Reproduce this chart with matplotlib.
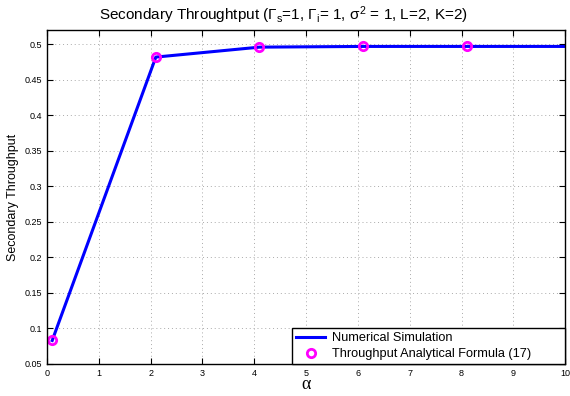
import matplotlib
matplotlib.use('Agg')
import matplotlib.pyplot as plt

# alpha values and throughput from simulation / analytical formula
alpha = [0.1, 2.1, 4.1, 6.1, 8.1, 10.1]
sim_throughput = [0.083, 0.482, 0.496, 0.497, 0.497, 0.497]
ana_alpha = [0.1, 2.1, 4.1, 6.1, 8.1]
ana_throughput = [0.083, 0.482, 0.496, 0.497, 0.497]

xticks = list(range(0, 11))
yticks = [0.05, 0.1, 0.15, 0.2, 0.25, 0.3, 0.35, 0.4, 0.45, 0.5]

plt.rcParams['font.family'] = ['Liberation Sans', 'DejaVu Sans']
plt.rcParams['mathtext.fontset'] = 'custom'
plt.rcParams['mathtext.rm'] = 'Liberation Sans'
plt.rcParams['mathtext.it'] = 'Liberation Sans'

fig = plt.figure(figsize=(5.7, 3.96), dpi=100)
ax = fig.add_axes([0.0825, 0.081, 0.909, 0.843])

ax.plot(alpha, sim_throughput, color='#0000ff', linewidth=2.2,
        label='Numerical Simulation')
ax.plot(ana_alpha, ana_throughput, linestyle='none', marker='o',
        markersize=6, markerfacecolor='none', markeredgecolor='#ff00ff',
        markeredgewidth=2, label='Throughput Analytical Formula (17)')

ax.set_xlim(0, 10)
ax.set_ylim(0.05, 0.52)
ax.set_xticks(xticks)
ax.set_yticks(yticks)
ax.set_yticklabels([f'{v:g}' for v in yticks])
ax.tick_params(direction='in', top=True, right=True, labelsize=6.5,
               length=4, width=0.8)
ax.grid(True, linestyle=(0, (1, 3)), color='#aaaaaa', linewidth=0.7)
for s in ax.spines.values():
    s.set_linewidth(1.0)

ax.set_xlabel('α', fontsize=13, labelpad=-1, family='Liberation Serif')
ax.set_ylabel('Secondary Throughput', fontsize=9, labelpad=4)
ax.set_title(r'Secondary Throughtput ($\Gamma_{\rm s}$=1, $\Gamma_{\rm i}$= 1, '
             r'$\sigma^2$ = 1, L=2, K=2)', fontsize=11, pad=7, x=0.456)

leg = ax.legend(loc='lower left', bbox_to_anchor=(0.473, 0, 0.527, 0.1),
                mode='expand', fontsize=9.2, borderaxespad=0,
                fancybox=False, edgecolor='black', framealpha=1,
                handlelength=2.3, handletextpad=0.5, labelspacing=0.3,
                borderpad=0.3)
leg.get_frame().set_linewidth(1.0)

fig.savefig('out.png', dpi=100)
